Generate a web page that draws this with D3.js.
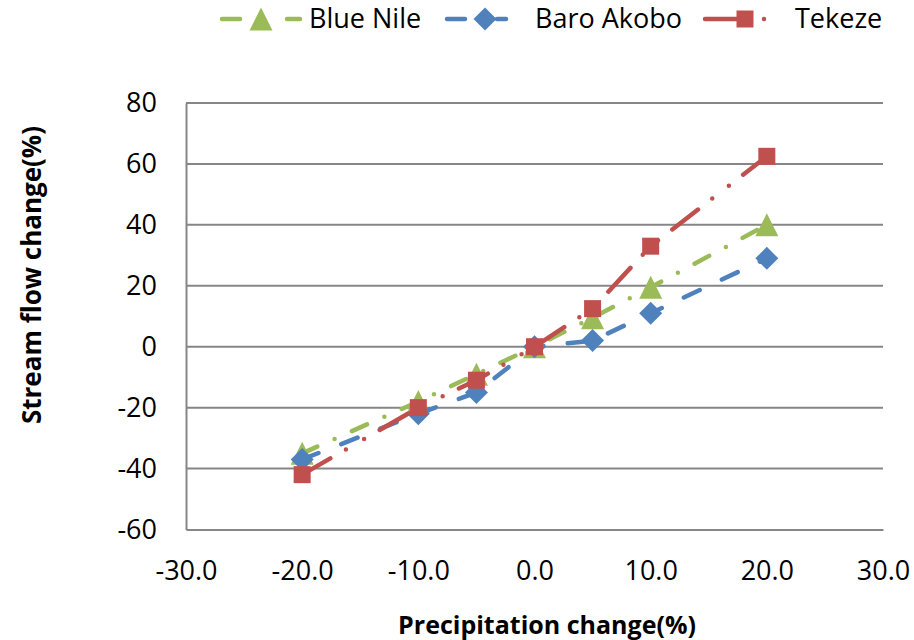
<!DOCTYPE html>
<html><head><meta charset="utf-8">
<script src="https://cdn.jsdelivr.net/npm/d3@7"></script>
<style>body{margin:0;background:#fff}svg{display:block}</style>
</head><body>
<svg id="c" width="914" height="640"></svg>
<script>
const precip = [-20, -10, -5, 0, 5, 10, 20];
const blueNile = [-35, -18, -9, 0, 9.5, 19.5, 40];
const baroAkobo = [-37, -22, -15, 0, 2, 11, 29];
const tekeze = [-42, -20, -11, 0, 12.5, 33, 62.5];
const xTicks = [-30, -20, -10, 0, 10, 20, 30];
const yTicks = [-60, -40, -20, 0, 20, 40, 60, 80];
const seriesNames = ["Blue Nile", "Baro Akobo", "Tekeze"];

const svg = d3.select("#c");
const L = 186, R = 883, T = 103, B = 529.5;
const x = d3.scaleLinear().domain([-30, 30]).range([L, R]);
const y = d3.scaleLinear().domain([-60, 80]).range([B, T]);
const grid = "#868686";
const FONT = "'Open Sans', sans-serif";

// gridlines
svg.append("g").selectAll("line").data(yTicks.filter(d => d > -60)).join("line")
  .attr("x1", L).attr("x2", R).attr("y1", d => y(d)).attr("y2", d => y(d))
  .attr("stroke", grid).attr("stroke-width", 2);

// axes
const yAxis = d3.axisLeft(y).tickValues(yTicks).tickSize(0).tickPadding(29);
const gy = svg.append("g").attr("transform", `translate(${L},0)`).call(yAxis);
const xAxis = d3.axisBottom(x).tickValues(xTicks).tickSize(0).tickPadding(31);
const gx = svg.append("g").attr("transform", `translate(0,${B})`).call(xAxis);
[gx, gy].forEach(g => {
  g.select(".domain").attr("stroke", grid).attr("stroke-width", 2);
  g.selectAll("text").attr("font-family", FONT).attr("font-size", 27).attr("fill", "#000");
});
gx.selectAll("text").text(d => d.toFixed(1));
gy.selectAll("text").text(d => String(d));

// axis titles
svg.append("text").attr("x", 547).attr("y", 634).attr("text-anchor", "middle")
  .attr("font-family", FONT).attr("font-weight", "bold").attr("font-size", 25)
  .text("Precipitation change(%)");
svg.append("text").attr("transform", "translate(41,275) rotate(-90)").attr("text-anchor", "middle")
  .attr("font-family", FONT).attr("font-weight", "bold").attr("font-size", 26)
  .text("Stream flow change(%)");

const series = [
  {name: seriesNames[0], vals: blueNile, color: "#9BBB59", dash: "16.5 19 0 19", shape: "tri"},
  {name: seriesNames[1], vals: baroAkobo, color: "#4F81BD", dash: "17.5 24.5", shape: "dia"},
  {name: seriesNames[2], vals: tekeze, color: "#C0504D", dash: "32.5 18 0 21 0 18", shape: "sq"}
];

function marker(g, shape, cx, cy, color) {
  if (shape === "tri") {
    const w = 23, h = 23;
    g.append("path").attr("d", `M${cx},${cy - h/2}L${cx + w/2},${cy + h/2}L${cx - w/2},${cy + h/2}Z`).attr("fill", color);
  } else if (shape === "dia") {
    const r = 11.5;
    g.append("path").attr("d", `M${cx},${cy - r}L${cx + r},${cy}L${cx},${cy + r}L${cx - r},${cy}Z`).attr("fill", color);
  } else {
    const s = 17;
    g.append("rect").attr("x", cx - s/2).attr("y", cy - s/2).attr("width", s).attr("height", s).attr("fill", color);
  }
}

const line = d3.line().x(d => x(d[0])).y(d => y(d[1]));
series.forEach(s => {
  const pts = precip.map((p, i) => [p, s.vals[i]]);
  const g = svg.append("g");
  g.append("path").attr("d", line(pts)).attr("fill", "none").attr("stroke", s.color)
    .attr("stroke-width", 4.5).attr("stroke-linecap", "round").attr("stroke-linejoin", "round")
    .attr("stroke-dasharray", s.dash);
  pts.forEach(p => marker(g, s.shape, x(p[0]), y(p[1]), s.color));
});

// legend
const legend = [
  {x0: 222, x1: 300, mx: 261, tx: 309, dash: "18 47 13"},
  {x0: 447, x1: 506, mx: 485, tx: 535, dash: "18 32 9"},
  {x0: 705, x1: 770, mx: 745, tx: 795, dash: "32 27 0 100"}
];
const ly = 19;
series.forEach((s, i) => {
  const lg = legend[i];
  const g = svg.append("g");
  g.append("line").attr("x1", lg.x0).attr("x2", lg.x1).attr("y1", ly).attr("y2", ly)
    .attr("stroke", s.color).attr("stroke-width", 4.5).attr("stroke-linecap", "round")
    .attr("stroke-dasharray", lg.dash);
  marker(g, s.shape, lg.mx, ly, s.color);
  g.append("text").attr("x", lg.tx).attr("y", 28).attr("font-family", FONT).attr("font-size", 27)
    .attr("fill", "#000").text(s.name);
});
</script>
</body></html>
